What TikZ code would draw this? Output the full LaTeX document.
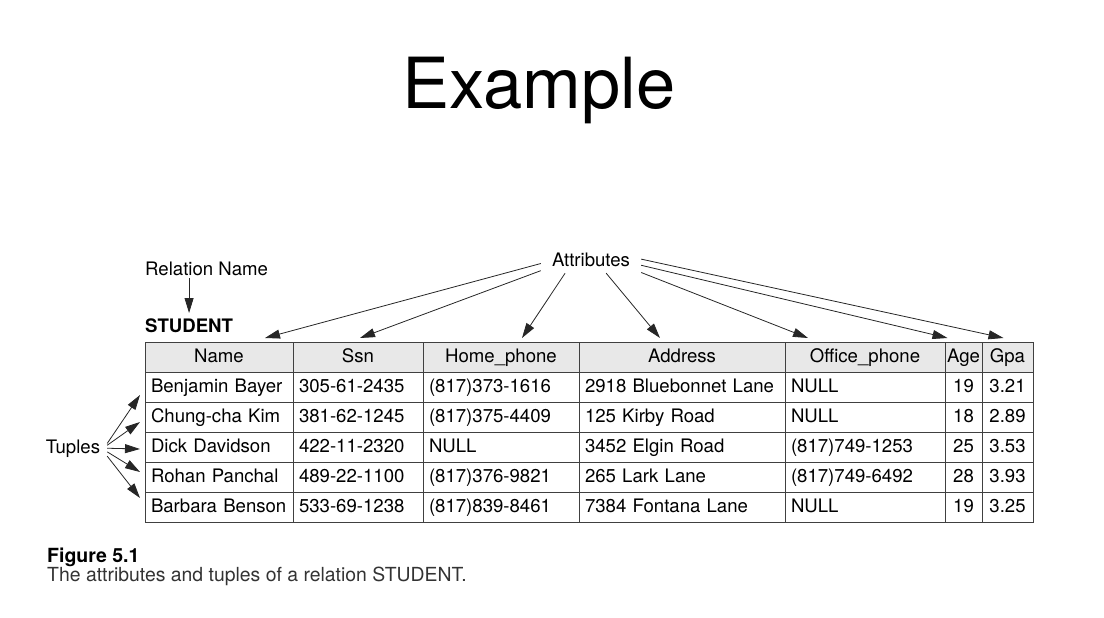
\documentclass[tikz,border=0pt]{standalone}
\usepackage{fontspec}
\setmainfont{TeX Gyre Heros}
\usetikzlibrary{positioning,arrows.meta}

\newcommand\tabfont{\fontsize{18.6}{21}\selectfont}

\tikzset{
  cell/.style={draw=black!75, line width=0.8pt, outer sep=0pt, minimum height=30pt,
    text height=13pt, text depth=3pt, font=\tabfont},
  head/.style={cell, fill=black!9, minimum width=#1, inner sep=0pt},
  txtcell/.style={cell, anchor=west, text width=#1, inner xsep=6pt, inner ysep=0pt, align=left},
  numcell/.style={cell, minimum width=#1, inner sep=0pt},
  pointer/.style={-{Triangle[length=15pt,width=9pt]}, line width=0.8pt, black!85},
  lbl/.style={font=\tabfont}
}

\begin{document}
\begin{tikzpicture}[x=1pt,y=-1pt]
\useasboundingbox (0,0) rectangle (1104,618);

\node [font=\fontsize{70.5}{76}\selectfont, anchor=base, inner sep=0pt] (title) at (539,108) {Example};

% header row
\node [head=148pt, anchor=west] (hName) at (145,357) {Name};
\node [head=130pt] (hSsn) [right=0pt of hName] {Ssn};
\node [head=156pt] (hHome) [right=0pt of hSsn] {Home\_phone};
\node [head=206pt] (hAddr) [right=0pt of hHome] {Address};
\node [head=160pt] (hOffice) [right=0pt of hAddr] {Office\_phone};
\node [head=37pt] (hAge) [right=0pt of hOffice] {Age};
\node [head=51pt] (hGpa) [right=0pt of hAge] {Gpa};

% tuples
\foreach \nm/\ssn/\hp/\ad/\op/\ag/\gp [count=\i] in {
  Benjamin Bayer/305-61-2435/(817)373-1616/2918 Bluebonnet Lane/NULL/19/3.21,
  Chung-cha Kim/381-62-1245/(817)375-4409/125 Kirby Road/NULL/18/2.89,
  Dick Davidson/422-11-2320/NULL/3452 Elgin Road/(817)749-1253/25/3.53,
  Rohan Panchal/489-22-1100/(817)376-9821/265 Lark Lane/(817)749-6492/28/3.93,
  Barbara Benson/533-69-1238/(817)839-8461/7384 Fontana Lane/NULL/19/3.25}
{
  \node [txtcell=136pt] (nm\i) at ([yshift=-30*\i]hName.west) {\nm};
  \node [txtcell=118pt] (ss\i) at ([yshift=-30*\i]hSsn.west) {\ssn};
  \node [txtcell=144pt] (hp\i) at ([yshift=-30*\i]hHome.west) {\hp};
  \node [txtcell=194pt] (ad\i) at ([yshift=-30*\i]hAddr.west) {\ad};
  \node [txtcell=148pt] (op\i) at ([yshift=-30*\i]hOffice.west) {\op};
  \node [numcell=37pt] (ag\i) at ([yshift=-30*\i]hAge.center) {\ag};
  \node [numcell=51pt] (gp\i) at ([yshift=-30*\i]hGpa.center) {\gp};
}

\node [lbl, anchor=base west, inner xsep=0pt, inner ysep=3pt] (rel) at (145,275) {Relation Name};
\node [font=\tabfont\bfseries, anchor=base west, inner xsep=0pt, inner ysep=5pt] (stu) at (145,332) {STUDENT};
\node [lbl, minimum width=100pt, minimum height=26pt, inner sep=0pt] (attr) at (591,260) {Attributes};
\node [lbl, anchor=base, minimum width=68pt, minimum height=20pt, inner sep=0pt] (tup) at (73,453) {Tuples};

\path [pointer]
(stu.north |- rel.south) edge (stu.north)
(attr.184) edge ([xshift=46pt,yshift=4pt]hName.north)
(attr.192) edge ([xshift=2pt,yshift=4pt]hSsn.north)
(attr.207) edge ([xshift=21pt,yshift=4pt]hHome.north)
(attr.319) edge ([xshift=-22pt,yshift=4pt]hAddr.north)
(attr.346) edge ([xshift=-57pt,yshift=4pt]hOffice.north)
(attr.354) edge ([xshift=-16pt,yshift=4pt]hAge.north)
(attr.1) edge ([xshift=-4pt,yshift=4pt]hGpa.north)
(tup.8) edge ([xshift=-5pt,yshift=-8pt]nm1.west)
(tup.5) edge ([xshift=-5pt,yshift=-5pt]nm2.west)
(tup.0) edge ([xshift=-5pt,yshift=-2pt]nm3.west)
(tup.354) edge ([xshift=-5pt,yshift=5pt]nm4.west)
(tup.347) edge ([xshift=-5pt,yshift=9pt]nm5.west);

% caption
\node [font=\fontsize{19.5}{22}\selectfont\bfseries, anchor=base west, inner sep=0pt] (fig) at (47,562) {Figure 5.1};
\node [font=\fontsize{19.4}{22}\selectfont, text=black!80, anchor=base west, inner sep=0pt] (cap) at (47,581) {The attributes and tuples of a relation STUDENT.};
\end{tikzpicture}
\end{document}
